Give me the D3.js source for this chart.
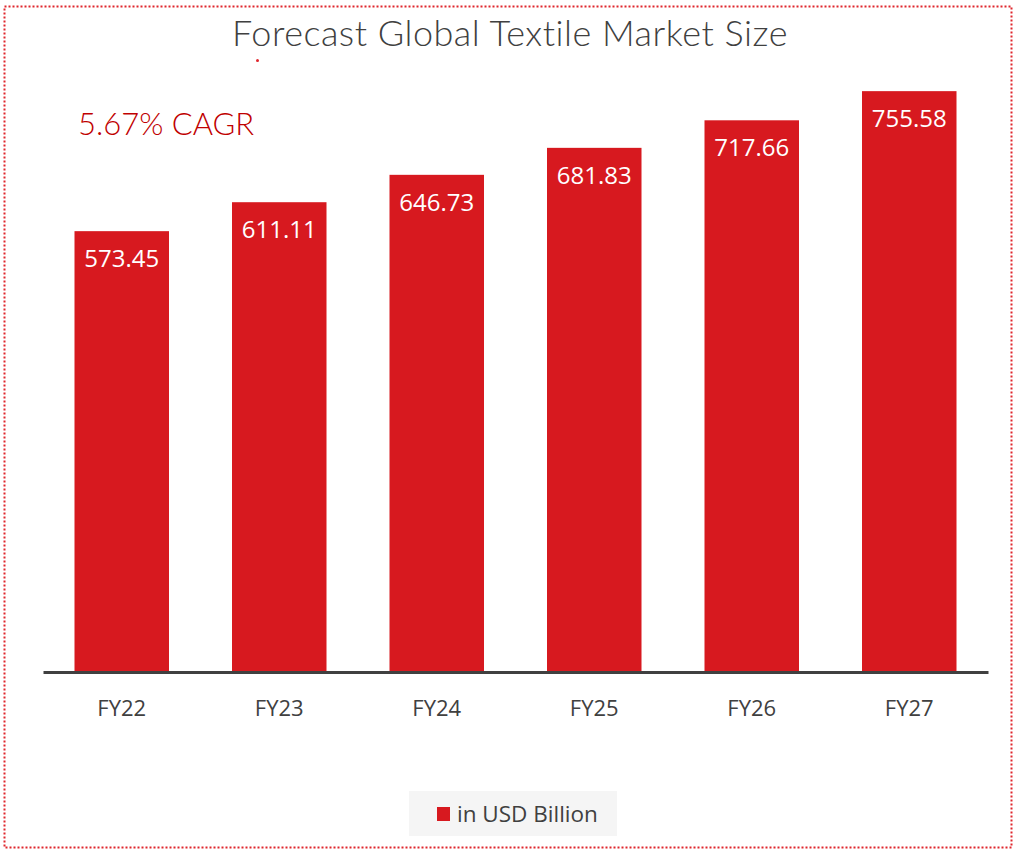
<!DOCTYPE html>
<html><head><meta charset="utf-8">
<script src="https://cdn.jsdelivr.net/npm/d3@7"></script>
<style>html,body{margin:0;padding:0;background:#fff;}</style>
</head><body>
<script>
const categories = ["FY22","FY23","FY24","FY25","FY26","FY27"];
const values = [573.45, 611.11, 646.73, 681.83, 717.66, 755.58];
const labels = ["573.45","611.11","646.73","681.83","717.66","755.58"];
const title = "Forecast Global Textile Market Size";
const cagr = "5.67% CAGR";
const legendLabel = "in USD Billion";

const W = 1015, H = 851;
const svg = d3.select("body").append("svg").attr("width", W).attr("height", H);
svg.append("rect").attr("x",4.5).attr("y",6.5).attr("width",1007).attr("height",841)
  .attr("fill","#fff").attr("stroke","#e0262c").attr("stroke-width",2).attr("stroke-dasharray","2,2");

const x = d3.scaleBand().domain(categories).range([43, 988]).paddingInner(0.4).paddingOuter(0.2);
const y = d3.scaleLinear().domain([0, 800]).range([672, 57]);

svg.append("text").attr("x",510).attr("y",46).attr("text-anchor","middle")
  .attr("font-family","Lato").attr("font-weight",300).attr("font-size",36).attr("letter-spacing",0.5)
  .attr("fill","#404040").text(title);
svg.append("circle").attr("cx",257.5).attr("cy",60.5).attr("r",1.5).attr("fill","#e0262c");
svg.append("text").attr("x",78).attr("y",135).attr("font-family","Lato").attr("font-weight",300)
  .attr("font-size",31).attr("fill","#c00000").text(cagr);

svg.selectAll("rect.bar").data(values).enter().append("rect").attr("class","bar")
  .attr("x",(d,i)=>x(categories[i])).attr("width",x.bandwidth())
  .attr("y",d=>y(d)).attr("height",d=>y(0)-y(d)).attr("fill","#d7191f");

svg.selectAll("text.lbl").data(values).enter().append("text").attr("class","lbl")
  .attr("x",(d,i)=>x(categories[i])+x.bandwidth()/2).attr("y",d=>y(d)+36)
  .attr("text-anchor","middle").attr("font-family","Open Sans").attr("font-size",24)
  .attr("fill","#fff").text((d,i)=>labels[i]);

const ax = svg.append("g").attr("transform","translate(0,672)")
  .call(d3.axisBottom(x).tickSize(0).tickPadding(28));
ax.select(".domain").attr("stroke","#404040").attr("stroke-width",3);
ax.selectAll("text").attr("font-family","Open Sans").attr("font-size",22).attr("fill","#404040");

const lg = svg.append("g");
lg.append("rect").attr("x",409).attr("y",791).attr("width",208).attr("height",45).attr("fill","#f5f5f5");
lg.append("rect").attr("x",437).attr("y",807).attr("width",13).attr("height",14).attr("fill","#d7191f");
lg.append("text").attr("x",457).attr("y",822).attr("font-family","Open Sans").attr("font-size",22.5)
  .attr("fill","#404040").text(legendLabel);
</script>
</body></html>
